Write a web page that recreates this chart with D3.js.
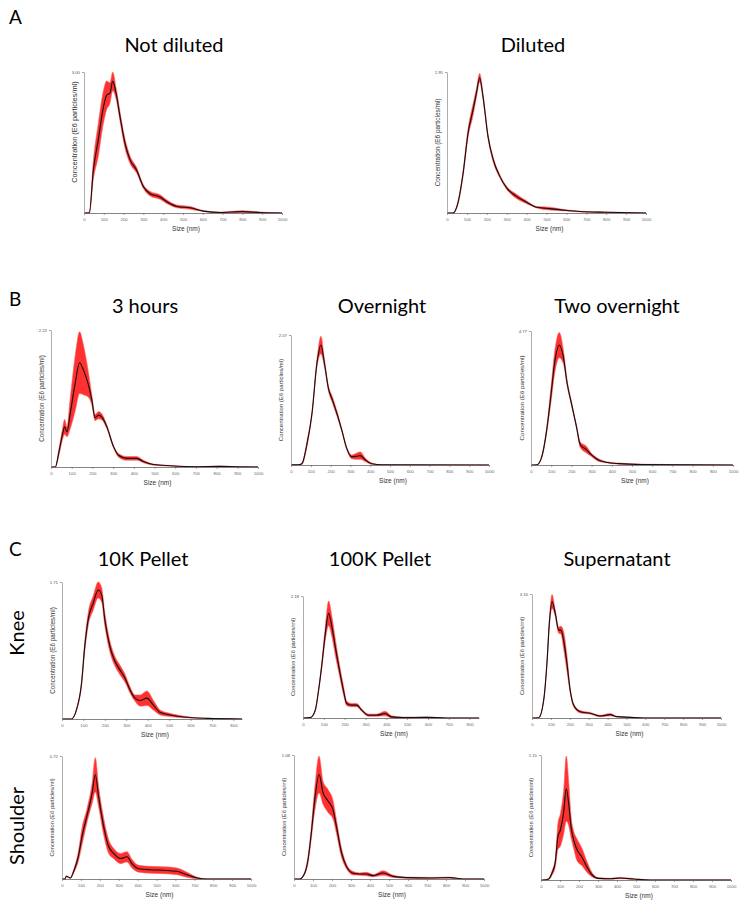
<!DOCTYPE html>
<html>
<head>
<meta charset="utf-8">
<script src="https://cdn.jsdelivr.net/npm/d3@7"></script>
<style>
  body { margin: 0; background: #fff; }
  svg { display: block; }
</style>
</head>
<body>
<div id="chart"></div>
<script>
// ---- data (size in nm, concentration in E6 particles/ml) ----
const notDilutedSize = [0, 27, 47, 72, 95, 115, 131, 145, 162, 182, 207, 233, 266, 300, 334, 384, 418, 469, 536, 604, 688, 798, 890, 1000];
const notDilutedMean = [0, 0, 0.91, 1.55, 2.19, 2.51, 2.55, 2.8, 2.55, 2.05, 1.48, 1.13, 0.91, 0.56, 0.41, 0.34, 0.24, 0.14, 0.11, 0.04, 0.01, 0.03, 0.01, 0];
const notDilutedErr = [0, 0.02, 0.2, 0.35, 0.35, 0.3, 0.22, 0.2, 0.12, 0.1, 0.1, 0.08, 0.06, 0.04, 0.05, 0.05, 0.04, 0.03, 0.03, 0.01, 0.01, 0.02, 0.01, 0];

const dilutedSize = [0, 30, 55, 81, 106, 131, 148, 164, 181, 206, 232, 265, 299, 349, 399, 450, 517, 584, 668, 802, 1000];
const dilutedMean = [0, 0, 0.14, 0.55, 1.11, 1.43, 1.66, 1.87, 1.61, 1.06, 0.74, 0.51, 0.35, 0.23, 0.15, 0.08, 0.06, 0.04, 0.02, 0.01, 0];
const dilutedErr = [0, 0, 0.02, 0.04, 0.06, 0.08, 0.06, 0.06, 0.04, 0.03, 0.03, 0.02, 0.02, 0.03, 0.02, 0.01, 0.02, 0.01, 0.005, 0.005, 0];

const threeHoursSize = [0, 21, 37, 53, 66, 77, 93, 117, 138, 157, 181, 197, 213, 230, 246, 270, 302, 326, 366, 414, 446, 494, 575, 703, 815, 896, 1000];
const threeHoursMean = [0, 0, 0.22, 0.49, 0.65, 0.57, 0.87, 1.36, 1.69, 1.57, 1.33, 1.09, 0.8, 0.84, 0.81, 0.65, 0.33, 0.19, 0.14, 0.14, 0.09, 0.04, 0.02, 0.005, 0.01, 0.005, 0];
const threeHoursErr = [0, 0, 0.05, 0.08, 0.12, 0.08, 0.25, 0.45, 0.5, 0.4, 0.2, 0.08, 0.05, 0.06, 0.05, 0.03, 0.02, 0.03, 0.03, 0.03, 0.02, 0.01, 0.005, 0, 0.005, 0, 0];

const overnightSize = [0, 40, 55, 81, 106, 131, 151, 169, 189, 210, 232, 257, 282, 307, 332, 349, 374, 408, 458, 1000];
const overnightMean = [0.002, 0.005, 0.02, 0.34, 0.82, 1.62, 1.91, 1.62, 1.22, 1.03, 0.82, 0.55, 0.26, 0.13, 0.14, 0.15, 0.085, 0.02, 0.005, 0];
const overnightErr = [0, 0, 0.01, 0.04, 0.03, 0.06, 0.14, 0.06, 0.04, 0.05, 0.04, 0.02, 0.02, 0.03, 0.05, 0.06, 0.03, 0.01, 0, 0];

const twoOvernightSize = [0, 29, 54, 78, 98, 119, 140, 160, 179, 200, 225, 244, 274, 298, 331, 371, 436, 550, 1000];
const twoOvernightMean = [0, 0.01, 0.31, 1.26, 2.44, 3.74, 4.27, 3.86, 2.91, 2.2, 1.37, 0.72, 0.55, 0.37, 0.19, 0.1, 0.05, 0.02, 0];
const twoOvernightErr = [0, 0, 0.04, 0.1, 0.25, 0.4, 0.45, 0.25, 0.1, 0.07, 0.05, 0.1, 0.12, 0.06, 0.05, 0.02, 0.02, 0.01, 0];

const knee10kSize = [0, 44, 67, 91, 106, 122, 146, 169, 185, 200, 224, 247, 271, 294, 318, 341, 365, 396, 427, 459, 505, 568, 678, 840];
const knee10kMean = [0, 0, 0.11, 0.44, 0.9, 1.24, 1.45, 1.61, 1.55, 1.24, 0.9, 0.72, 0.61, 0.51, 0.36, 0.26, 0.23, 0.26, 0.17, 0.08, 0.05, 0.025, 0.008, 0];
const knee10kErr = [0, 0, 0.01, 0.03, 0.06, 0.08, 0.09, 0.1, 0.09, 0.08, 0.07, 0.06, 0.06, 0.05, 0.04, 0.04, 0.07, 0.09, 0.06, 0.03, 0.02, 0.01, 0, 0];

const knee100kSize = [0, 35, 59, 75, 91, 107, 123, 139, 155, 175, 194, 210, 234, 258, 282, 314, 354, 394, 425, 481, 593, 688, 845];
const knee100kMean = [0, 0.006, 0.14, 0.5, 0.97, 1.51, 1.87, 1.63, 1.27, 0.86, 0.5, 0.26, 0.23, 0.23, 0.14, 0.05, 0.05, 0.08, 0.02, 0.006, 0.012, 0, 0];
const knee100kErr = [0, 0, 0.02, 0.03, 0.06, 0.12, 0.22, 0.18, 0.15, 0.1, 0.08, 0.04, 0.03, 0.03, 0.02, 0.02, 0.02, 0.04, 0.02, 0.01, 0.008, 0, 0];

const kneeSupSize = [0, 35, 62, 79, 93, 106, 123, 141, 153, 167, 185, 202, 220, 255, 308, 361, 414, 449, 519, 590, 1000];
const kneeSupMean = [0, 0.008, 0.46, 1.39, 2.5, 2.97, 2.67, 2.24, 2.24, 1.99, 1.39, 0.71, 0.33, 0.16, 0.12, 0.05, 0.085, 0.034, 0.017, 0, 0];
const kneeSupErr = [0, 0, 0.02, 0.05, 0.1, 0.18, 0.08, 0.08, 0.1, 0.22, 0.2, 0.06, 0.04, 0.03, 0.02, 0.02, 0.03, 0.01, 0.005, 0, 0];

const shoulder10kSize = [0, 15, 23, 44, 62, 88, 106, 132, 159, 176, 194, 220, 247, 273, 309, 344, 370, 406, 467, 538, 608, 661, 714, 767, 1000];
const shoulder10kMean = [0, 0, 0.016, 0.006, 0.045, 0.14, 0.25, 0.37, 0.5, 0.61, 0.48, 0.31, 0.19, 0.15, 0.12, 0.13, 0.09, 0.06, 0.054, 0.051, 0.045, 0.025, 0.006, 0, 0];
const shoulder10kErr = [0, 0, 0.003, 0.002, 0.01, 0.03, 0.05, 0.04, 0.06, 0.1, 0.06, 0.05, 0.04, 0.03, 0.03, 0.03, 0.025, 0.02, 0.02, 0.02, 0.02, 0.015, 0.005, 0, 0];

const shoulder100kSize = [0, 30, 56, 74, 91, 109, 132, 153, 179, 206, 223, 250, 276, 311, 346, 381, 417, 469, 522, 592, 715, 821, 891, 1000];
const shoulder100kMean = [0, 0, 0.05, 0.17, 0.4, 0.69, 0.91, 0.75, 0.68, 0.6, 0.46, 0.23, 0.11, 0.05, 0.043, 0.043, 0.029, 0.052, 0.023, 0.012, 0.009, 0.012, 0, 0];
const shoulder100kErr = [0, 0, 0.01, 0.03, 0.05, 0.1, 0.16, 0.1, 0.1, 0.08, 0.06, 0.04, 0.02, 0.015, 0.01, 0.015, 0.01, 0.02, 0.01, 0.005, 0.005, 0.004, 0, 0];

const shoulderSupSize = [0, 14, 40, 58, 75, 89, 102, 119, 133, 146, 158, 172, 189, 216, 242, 268, 304, 365, 418, 488, 575, 1000];
const shoulderSupMean = [0, 0, 0.009, 0.064, 0.16, 0.4, 0.46, 0.62, 0.84, 0.7, 0.49, 0.37, 0.28, 0.21, 0.12, 0.05, 0.015, 0.012, 0.018, 0.009, 0, 0];
const shoulderSupErr = [0, 0, 0.004, 0.02, 0.04, 0.12, 0.15, 0.2, 0.3, 0.2, 0.1, 0.08, 0.1, 0.08, 0.05, 0.02, 0.005, 0.004, 0.006, 0.003, 0, 0];

// top y tick of every panel
const yMaxLabels = [3.0, 1.95, 2.22, 2.07, 4.77, 1.71, 2.18, 3.16, 0.72, 1.08, 1.15];
const xTicks1000 = [0, 100, 200, 300, 400, 500, 600, 700, 800, 900, 1000];
const xTicks800 = [0, 100, 200, 300, 400, 500, 600, 700, 800];

const panelTitles = ["Not diluted", "Diluted", "3 hours", "Overnight", "Two overnight", "10K Pellet", "100K Pellet", "Supernatant"];
const rowLabels = ["Knee", "Shoulder"];
const sectionLetters = ["A", "B", "C"];

// ---- layout (pixel boxes of each small plot) ----
const panels = [
  { size: notDilutedSize, mean: notDilutedMean, err: notDilutedErr, x0: 84, x1: 282, top: 72, base: 213, xmax: 1000, ticks: xTicks1000, fs: 7.4 },
  { size: dilutedSize, mean: dilutedMean, err: dilutedErr, x0: 447, x1: 646, top: 72, base: 213, xmax: 1000, ticks: xTicks1000, fs: 6.4 },
  { size: threeHoursSize, mean: threeHoursMean, err: threeHoursErr, x0: 51, x1: 258, top: 330, base: 467, xmax: 1000, ticks: xTicks1000, fs: 6.3 },
  { size: overnightSize, mean: overnightMean, err: overnightErr, x0: 291, x1: 489, top: 335, base: 465, xmax: 1000, ticks: xTicks1000, fs: 6.0 },
  { size: twoOvernightSize, mean: twoOvernightMean, err: twoOvernightErr, x0: 531, x1: 733, top: 331, base: 465, xmax: 1000, ticks: xTicks1000, fs: 6.2 },
  { size: knee10kSize, mean: knee10kMean, err: knee10kErr, x0: 62, x1: 242, top: 582, base: 719, xmax: 840, ticks: xTicks800, fs: 6.3 },
  { size: knee100kSize, mean: knee100kMean, err: knee100kErr, x0: 303, x1: 479, top: 596, base: 718, xmax: 845, ticks: xTicks800, fs: 5.7 },
  { size: kneeSupSize, mean: kneeSupMean, err: kneeSupErr, x0: 532, x1: 721, top: 594, base: 718, xmax: 1000, ticks: xTicks1000, fs: 5.7 },
  { size: shoulder10kSize, mean: shoulder10kMean, err: shoulder10kErr, x0: 62, x1: 251, top: 756, base: 879, xmax: 1000, ticks: xTicks1000, fs: 5.7 },
  { size: shoulder100kSize, mean: shoulder100kMean, err: shoulder100kErr, x0: 294, x1: 484, top: 755, base: 879, xmax: 1000, ticks: xTicks1000, fs: 5.7 },
  { size: shoulderSupSize, mean: shoulderSupMean, err: shoulderSupErr, x0: 541, x1: 731, top: 755, base: 880, xmax: 1000, ticks: xTicks1000, fs: 5.8 },
];

const width = 739;
const height = 901;

const svg = d3
  .select("#chart")
  .append("svg")
  .attr("width", width)
  .attr("height", height)
  .style("font-family", "'Liberation Sans', Arial, sans-serif");

svg.append("rect").attr("width", width).attr("height", height).attr("fill", "#fff");

const bigFont = "Lato, 'Open Sans', sans-serif";

// section letters
[[9, 24], [9, 306], [9, 556]].forEach((p, i) => {
  svg.append("text")
    .attr("x", p[0]).attr("y", p[1])
    .style("font-family", bigFont)
    .style("font-size", "19px")
    .text(sectionLetters[i]);
});

// column titles
const titlePos = [[174, 52], [533, 52], [145, 313], [382, 313], [617, 313], [143, 566], [380, 566], [617, 566]];
titlePos.forEach((p, i) => {
  svg.append("text")
    .attr("x", p[0]).attr("y", p[1])
    .attr("text-anchor", "middle")
    .style("font-family", bigFont)
    .style("font-size", "20px")
    .text(panelTitles[i]);
});

// row labels
[[24, 633], [24, 826]].forEach((p, i) => {
  svg.append("text")
    .attr("transform", `translate(${p[0]},${p[1]}) rotate(-90)`)
    .attr("text-anchor", "middle")
    .style("font-family", bigFont)
    .style("font-size", "20px")
    .text(rowLabels[i]);
});

panels.forEach((p, i) => {
  const ymax = yMaxLabels[i];
  const x = d3.scaleLinear().domain([0, p.xmax]).range([p.x0, p.x1]);
  const y = d3.scaleLinear().domain([0, ymax]).range([p.base, p.top]);

  const pts = p.size.map((s, k) => ({ s, m: p.mean[k], e: p.err[k] }));

  const g = svg.append("g");

  // error band
  const band = d3.area()
    .x((d) => x(d.s))
    .y0((d) => y(Math.max(0, d.m - d.e)))
    .y1((d) => y(Math.min(ymax * 1.01, d.m + d.e)))
    .curve(d3.curveMonotoneX);

  g.append("path")
    .datum(pts)
    .attr("d", band)
    .attr("fill", "#ff1a1a")
    .attr("fill-opacity", 0.9)
    .attr("stroke", "#ff6060")
    .attr("stroke-width", 0.6);

  // mean line
  const line = d3.line()
    .x((d) => x(d.s))
    .y((d) => y(d.m))
    .curve(d3.curveMonotoneX);

  g.append("path")
    .datum(pts)
    .attr("d", line)
    .attr("fill", "none")
    .attr("stroke", "#111")
    .attr("stroke-width", 1.1);

  // axes
  const xAxis = d3.axisBottom(x).tickValues(p.ticks).tickFormat(d3.format("d")).tickSize(2).tickSizeOuter(0);
  const gx = g.append("g").attr("transform", `translate(0,${p.base})`).call(xAxis);
  gx.select(".domain").attr("stroke", "#666").attr("stroke-width", 0.8);
  gx.selectAll(".tick line").attr("stroke", "#666").attr("stroke-width", 0.6);
  gx.selectAll(".tick text")
    .attr("y", 5)
    .attr("fill", "#666")
    .style("font-size", "4.3px");

  const yAxis = d3.axisLeft(y).tickValues([ymax]).tickFormat(d3.format(".2f")).tickSize(2).tickSizeOuter(0);
  const gy = g.append("g").attr("transform", `translate(${p.x0},0)`).call(yAxis);
  gy.select(".domain").attr("stroke", "#999").attr("stroke-width", 0.8);
  gy.selectAll(".tick line").attr("stroke", "#666").attr("stroke-width", 0.6);
  gy.selectAll(".tick text")
    .attr("x", -4)
    .attr("fill", "#555")
    .style("font-size", "4.3px");

  // axis titles
  g.append("text")
    .attr("x", (p.x0 + p.x1) / 2 + 3)
    .attr("y", p.base + 18)
    .attr("text-anchor", "middle")
    .attr("fill", "#333")
    .style("font-size", "6.5px")
    .text("Size (nm)");

  const midY = i === 0 ? 132 : (p.top + p.base) / 2;
  g.append("text")
    .attr("transform", `translate(${p.x0 - 10},${midY}) rotate(-90)`)
    .attr("text-anchor", "middle")
    .attr("dominant-baseline", "central")
    .attr("fill", "#333")
    .style("font-size", p.fs + "px")
    .text("Concentration (E6 particles/ml)");
});
</script>
</body>
</html>
